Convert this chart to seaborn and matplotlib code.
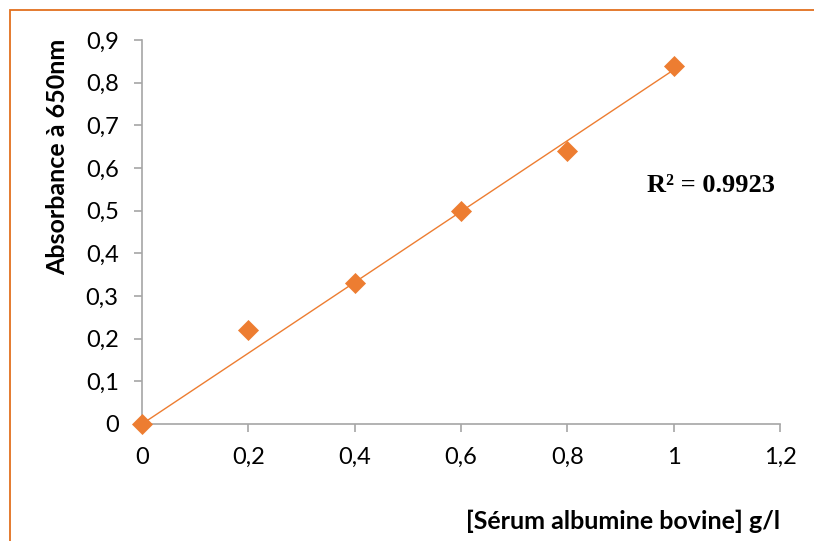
import numpy as np
import pandas as pd
import matplotlib
matplotlib.use("Agg")
import matplotlib.pyplot as plt
import seaborn as sns
from matplotlib.patches import Rectangle

concentration = [0, 0.2, 0.4, 0.6, 0.8, 1.0]
absorbance = [0.0, 0.22, 0.33, 0.50, 0.64, 0.838]
r2_label = "R² = 0.9923"
x_ticks = [0, 0.2, 0.4, 0.6, 0.8, 1.0, 1.2]
x_ticklabels = ["0", "0,2", "0,4", "0,6", "0,8", "1", "1,2"]
y_ticks = [0, 0.1, 0.2, 0.3, 0.4, 0.5, 0.6, 0.7, 0.8, 0.9]
y_ticklabels = ["0", "0,1", "0,2", "0,3", "0,4", "0,5", "0,6", "0,7", "0,8", "0,9"]

df = pd.DataFrame({"x": concentration, "y": absorbance})

sns.set_theme(style="white")
plt.rcParams["font.family"] = ["Lato", "DejaVu Sans"]

W, H = 814, 541
fig = plt.figure(figsize=(W / 100, H / 100), dpi=100)
ax = fig.add_axes([142 / W, (H - 424) / H, (780 - 142) / W, (424 - 40) / H])

orange = "#ED7D31"

# linear trendline through origin
xs = np.array(concentration)
ys = np.array(absorbance)
slope = (xs * ys).sum() / (xs * xs).sum()
trend = pd.DataFrame({"x": [0, 1.0], "y": [0, slope * 1.0]})
sns.lineplot(data=trend, x="x", y="y", ax=ax, color=orange, linewidth=1.0, zorder=2)
sns.scatterplot(data=df, x="x", y="y", ax=ax, marker="D", s=115, color=orange,
                edgecolor=orange, linewidth=0, zorder=3, clip_on=False)

ax.set_xlim(0, 1.2)
ax.set_ylim(0, 0.9)
ax.set_xticks(x_ticks)
ax.set_xticklabels(x_ticklabels)
ax.set_yticks(y_ticks)
ax.set_yticklabels(y_ticklabels)

for s in ["top", "right"]:
    ax.spines[s].set_visible(False)
for s in ["left", "bottom"]:
    ax.spines[s].set_color("#A6A6A6")
    ax.spines[s].set_linewidth(1.2)

ax.tick_params(axis="both", which="major", direction="out", length=5.8, width=1.2,
               color="#A6A6A6", labelsize=17, labelcolor="black")
ax.tick_params(axis="x", pad=11)
ax.tick_params(axis="y", pad=11)
ax.xaxis.set_ticks_position("bottom")
ax.yaxis.set_ticks_position("left")

ax.set_xlabel("[Sérum albumine bovine] g/l", fontsize=18, fontweight="bold",
              color="black", ha="right", va="center")
ax.xaxis.set_label_coords(1.0, (424 - 521) / 384)
ax.set_ylabel("Absorbance à 650nm", fontsize=18, fontweight="bold", color="black",
              ha="center", va="center")
ax.yaxis.set_label_coords((58 - 142) / 638, (424 - 157) / 384)

ax.text(0.892, 0.622, r2_label, fontsize=19, fontweight="bold",
        family=["Liberation Serif", "DejaVu Serif"], ha="center", va="center",
        color="black", transform=ax.transAxes)

# orange outer frame
fig.add_artist(Rectangle((10 / W, -0.05), 1.2, 1 - 10 / H + 0.05,
                         transform=fig.transFigure, fill=False,
                         edgecolor="#E2701F", linewidth=1.3))

fig.savefig("out.png", dpi=100, facecolor="white")
